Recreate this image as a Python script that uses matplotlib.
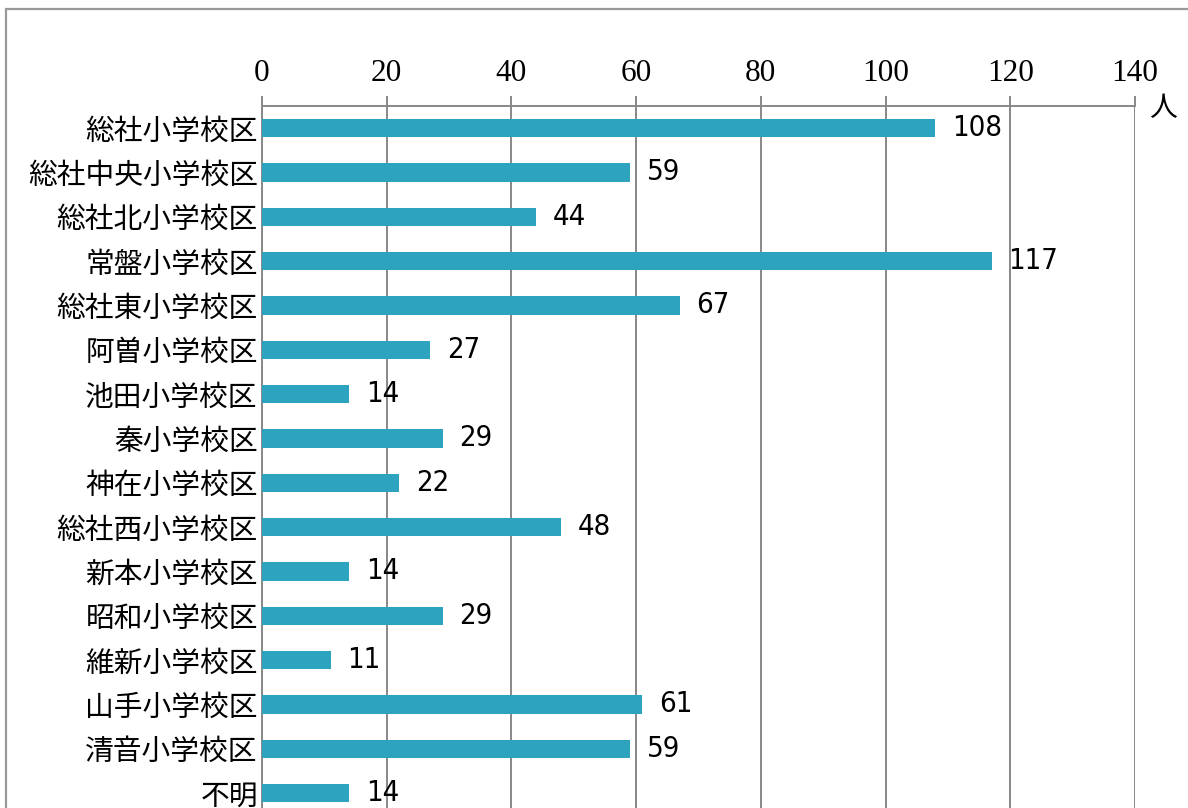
import matplotlib
matplotlib.use("Agg")
import matplotlib.pyplot as plt
from matplotlib.patches import Rectangle

# 小学校区別の人数
districts = ["総社小学校区", "総社中央小学校区", "総社北小学校区", "常盤小学校区",
             "総社東小学校区", "阿曽小学校区", "池田小学校区", "秦小学校区",
             "神在小学校区", "総社西小学校区", "新本小学校区", "昭和小学校区",
             "維新小学校区", "山手小学校区", "清音小学校区", "不明"]
counts = [108, 59, 44, 117, 67, 27, 14, 29, 22, 48, 14, 29, 11, 61, 59, 14]
xticks = [0, 20, 40, 60, 80, 100, 120, 140]
unit = "人"

plt.rcParams['font.family'] = ['Noto Sans CJK JP', 'DejaVu Sans']

fig = plt.figure(figsize=(11.88, 8.08), dpi=100)

# 外枠
fig.patches.append(Rectangle((6 / 1188, -0.1), 1.2, 1 - 9 / 808 + 0.1,
                             transform=fig.transFigure, fill=False,
                             edgecolor="#999999", linewidth=1.6))

ax = fig.add_axes([262 / 1188, 1 - 106 / 808 - 16 * 44.33 / 808,
                   873 / 1188, 16 * 44.33 / 808])

ypos = list(range(len(districts)))
bars = ax.barh(ypos, counts, height=0.41, color="#2EA3C0", zorder=3)
ax.bar_label(bars, labels=[str(c) for c in counts], padding=12, zorder=4,
             fontsize=21, family='DejaVu Sans', fontstretch='condensed')

ax.set_xlim(0, 140)
ax.set_ylim(len(districts) - 0.5, -0.5)
ax.set_xticks(xticks)
ax.set_xticklabels([str(t) for t in xticks], family='Liberation Serif', fontsize=22.5)
ax.xaxis.tick_top()
ax.tick_params(axis='x', direction='out', length=7, width=1.4, color="#888888", pad=6)
ax.set_yticks(ypos)
ax.set_yticklabels(districts, fontsize=20.7)
ax.tick_params(axis='y', length=0, pad=3)

ax.grid(axis='x', color="#888888", linewidth=1.4, zorder=1)
for side in ['left', 'top']:
    ax.spines[side].set_color("#888888")
    ax.spines[side].set_linewidth(1.4)
ax.spines['right'].set_visible(False)
ax.spines['bottom'].set_visible(False)

fig.text(1163 / 1188, 1 - 108 / 808, unit, fontsize=20, ha='center', va='center')

fig.savefig("out.png", dpi=100)
